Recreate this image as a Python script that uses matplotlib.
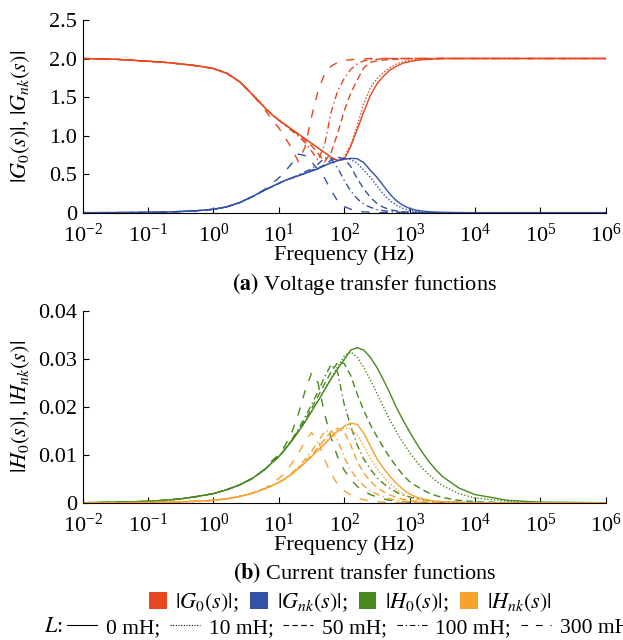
import numpy as np
import matplotlib
matplotlib.use("Agg")
import matplotlib.pyplot as plt
from matplotlib.patches import Patch
from matplotlib.lines import Line2D

plt.rcParams['font.family'] = ['Liberation Serif', 'DejaVu Serif']
plt.rcParams['mathtext.fontset'] = 'stix'

# ---------------------------
# data, x given as log10(frequency / Hz)
# ---------------------------
log_f = [-2, -1.5, -1, -0.75, -0.5, -0.25, 0, 0.2, 0.4, 0.6, 0.8,
         0.9, 1.0, 1.1, 1.2, 1.3, 1.4, 1.5, 1.6, 1.7, 1.8,
         1.9, 2.0, 2.1, 2.2, 2.3, 2.4, 2.5, 2.6, 2.7, 2.8,
         2.9, 3.0, 3.1, 3.2, 3.3, 3.4, 3.5,
         3.75, 4, 4.5, 5, 6]

inductances = ['0 mH', '10 mH', '50 mH', '100 mH', '300 mH']

# |G0(s)|  (low-frequency part shared by all L)
g0_lo = [2.00, 1.99, 1.965, 1.95, 1.93, 1.905, 1.87, 1.81, 1.70, 1.53, 1.35]
g0_0 = g0_lo + [1.27, 1.20, 1.14, 1.08, 1.02, 0.96, 0.90, 0.84, 0.78, 0.72,
                0.675, 0.69, 0.86, 1.08, 1.31, 1.52, 1.67, 1.77, 1.85, 1.90,
                1.94, 1.96, 1.975, 1.985, 1.99, 1.995, 2.0] + [2.0] * 5
g0_10 = g0_lo + [1.27, 1.20, 1.14, 1.08, 1.02, 0.96, 0.90, 0.84, 0.78, 0.72,
                 0.68, 0.72, 0.88, 1.13, 1.42, 1.62, 1.74, 1.82, 1.88, 1.93,
                 1.96, 1.975, 1.985, 1.99, 1.995, 2.0, 2.0] + [2.0] * 5
g0_50 = g0_lo + [1.27, 1.20, 1.14, 1.08, 1.01, 0.94, 0.87, 0.77, 0.66, 0.78,
                 1.03, 1.32, 1.55, 1.72, 1.88, 1.95, 1.97, 1.98, 1.985, 1.99,
                 1.995, 2.0, 2.0, 2.0, 2.0, 2.0, 2.0] + [2.0] * 5
g0_100 = g0_lo + [1.27, 1.20, 1.13, 1.06, 0.99, 0.91, 0.80, 0.68, 0.88, 1.30,
                  1.58, 1.74, 1.86, 1.93, 1.97, 1.985, 1.99, 2.0, 2.0, 2.0,
                  2.0, 2.0, 2.0, 2.0, 2.0, 2.0, 2.0] + [2.0] * 5
g0_300 = g0_lo[:-1] + [1.32] + [1.20, 1.10, 0.97, 0.83, 0.66, 0.85, 1.24, 1.58, 1.80, 1.90,
                                1.95, 1.975, 1.985, 1.99, 1.995, 2.0, 2.0, 2.0, 2.0, 2.0,
                                2.0, 2.0, 2.0, 2.0, 2.0, 2.0, 2.0] + [2.0] * 5

# |Gnk(s)|
gnk_lo = [0.0, 0.001, 0.004, 0.008, 0.015, 0.026, 0.044, 0.075, 0.13, 0.21, 0.30]
gnk_0 = gnk_lo + [0.34, 0.38, 0.42, 0.45, 0.48, 0.51, 0.54, 0.57, 0.61, 0.645,
                  0.675, 0.695, 0.705, 0.70, 0.65, 0.55, 0.46, 0.35, 0.24, 0.155,
                  0.095, 0.055, 0.033, 0.02, 0.012, 0.007, 0.004] + [0.001, 0.0, 0.0, 0.0, 0.0]
gnk_10 = gnk_lo + [0.34, 0.38, 0.42, 0.45, 0.48, 0.51, 0.54, 0.57, 0.61, 0.65,
                   0.685, 0.70, 0.69, 0.64, 0.55, 0.46, 0.35, 0.24, 0.155, 0.095,
                   0.055, 0.03, 0.018, 0.01, 0.006, 0.003, 0.002] + [0.0] * 5
gnk_50 = gnk_lo + [0.34, 0.38, 0.42, 0.45, 0.48, 0.51, 0.55, 0.58, 0.62, 0.68,
                   0.72, 0.70, 0.60, 0.44, 0.31, 0.20, 0.12, 0.07, 0.04, 0.022,
                   0.012, 0.007, 0.004, 0.002, 0.001, 0.0, 0.0] + [0.0] * 5
gnk_100 = gnk_lo + [0.34, 0.38, 0.42, 0.45, 0.49, 0.53, 0.57, 0.63, 0.71, 0.70,
                    0.58, 0.42, 0.28, 0.18, 0.11, 0.07, 0.04, 0.025, 0.015, 0.008,
                    0.004, 0.002, 0.0, 0.0, 0.0, 0.0, 0.0] + [0.0] * 5
gnk_300 = gnk_lo[:-1] + [0.31] + [0.38, 0.45, 0.54, 0.64, 0.76, 0.74, 0.66, 0.56, 0.45, 0.29,
                                  0.15, 0.08, 0.045, 0.02, 0.01, 0.005, 0.002, 0.0, 0.0, 0.0,
                                  0.0, 0.0, 0.0, 0.0, 0.0, 0.0, 0.0] + [0.0] * 5

# |H0(s)|
h0_lo = [0.0, 0.0001, 0.0003, 0.0005, 0.0008, 0.0013, 0.0019, 0.0027, 0.0037, 0.0051, 0.0071]
h0_0 = h0_lo + [0.0084, 0.0096, 0.0112, 0.0129, 0.0148, 0.0168, 0.0190, 0.0212, 0.0235, 0.0258,
                0.0279, 0.0298, 0.0318, 0.0323, 0.0318, 0.0303, 0.0282, 0.0256, 0.0228, 0.0198,
                0.0172, 0.0148, 0.0125, 0.0104, 0.0085, 0.0069, 0.0055] + [0.0031, 0.0017, 0.0005, 0.0001, 0.0]
h0_10 = h0_lo + [0.0084, 0.0096, 0.0112, 0.0129, 0.0148, 0.0168, 0.0190, 0.0212, 0.0236, 0.0260,
                 0.0283, 0.0305, 0.0314, 0.0303, 0.0282, 0.0256, 0.0228, 0.0200, 0.0172, 0.0148,
                 0.0125, 0.0105, 0.0087, 0.0071, 0.0058, 0.0046, 0.0036] + [0.0019, 0.0010, 0.0003, 0.0001, 0.0]
h0_50 = h0_lo + [0.0084, 0.0096, 0.0112, 0.0130, 0.0150, 0.0172, 0.0196, 0.0222, 0.0248, 0.0272,
                 0.0292, 0.0290, 0.0265, 0.0226, 0.0192, 0.0163, 0.0138, 0.0115, 0.0094, 0.0075,
                 0.0058, 0.0044, 0.0035, 0.0027, 0.0020, 0.0015, 0.0011] + [0.0005, 0.0002, 0.0, 0.0, 0.0]
h0_100 = h0_lo + [0.0084, 0.0096, 0.0113, 0.0132, 0.0154, 0.0178, 0.0204, 0.0232, 0.0262, 0.0288,
                  0.0272, 0.0205, 0.0160, 0.0120, 0.0091, 0.0070, 0.0053, 0.0040, 0.0030, 0.0022,
                  0.0016, 0.0012, 0.0009, 0.0007, 0.0005, 0.0003, 0.0002] + [0.0001, 0.0, 0.0, 0.0, 0.0]
h0_300 = h0_lo + [0.0088, 0.0100, 0.0120, 0.0147, 0.0185, 0.0232, 0.0270, 0.0250, 0.0185, 0.0135,
                  0.0095, 0.0068, 0.0048, 0.0034, 0.0024, 0.0017, 0.0012, 0.0008, 0.0005, 0.0003,
                  0.0002, 0.0001, 0.0, 0.0, 0.0, 0.0, 0.0] + [0.0] * 5

# |Hnk(s)|
hnk_lo = [0.0, 0.0, 0.00005, 0.0001, 0.0002, 0.0003, 0.0005, 0.0008, 0.0013, 0.0020, 0.0030]
hnk_0 = hnk_lo + [0.0036, 0.0042, 0.0050, 0.0060, 0.0071, 0.0083, 0.0096, 0.0109, 0.0122, 0.0136,
                  0.0149, 0.0159, 0.0166, 0.0163, 0.0145, 0.0118, 0.0092, 0.0072, 0.0055, 0.0040,
                  0.0028, 0.0018, 0.0012, 0.0008, 0.0005, 0.0003, 0.0002] + [0.0001, 0.0, 0.0, 0.0, 0.0]
hnk_10 = hnk_lo + [0.0036, 0.0042, 0.0050, 0.0060, 0.0071, 0.0083, 0.0096, 0.0110, 0.0124, 0.0139,
                   0.0150, 0.0156, 0.0154, 0.0140, 0.0118, 0.0092, 0.0072, 0.0054, 0.0040, 0.0028,
                   0.0018, 0.0011, 0.0007, 0.0005, 0.0003, 0.0002, 0.0001] + [0.0] * 5
hnk_50 = hnk_lo + [0.0036, 0.0042, 0.0050, 0.0060, 0.0072, 0.0085, 0.0099, 0.0115, 0.0132, 0.0148,
                   0.0155, 0.0148, 0.0120, 0.0085, 0.0062, 0.0045, 0.0032, 0.0023, 0.0016, 0.0011,
                   0.0007, 0.0005, 0.0003, 0.0002, 0.0001, 0.0, 0.0] + [0.0] * 5
hnk_100 = hnk_lo + [0.0036, 0.0042, 0.0051, 0.0062, 0.0075, 0.0090, 0.0107, 0.0127, 0.0148, 0.0151,
                    0.0130, 0.0095, 0.0068, 0.0049, 0.0035, 0.0025, 0.0018, 0.0012, 0.0008, 0.0005,
                    0.0003, 0.0002, 0.0001, 0.0, 0.0, 0.0, 0.0] + [0.0] * 5
hnk_300 = hnk_lo + [0.0044, 0.0050, 0.0064, 0.0082, 0.0102, 0.0128, 0.0146, 0.0130, 0.0090, 0.0060,
                    0.0038, 0.0025, 0.0016, 0.0010, 0.0006, 0.0004, 0.0002, 0.0001, 0.0, 0.0,
                    0.0, 0.0, 0.0, 0.0, 0.0, 0.0, 0.0] + [0.0] * 5

g0_curves = [g0_0, g0_10, g0_50, g0_100, g0_300]
gnk_curves = [gnk_0, gnk_10, gnk_50, gnk_100, gnk_300]
h0_curves = [h0_0, h0_10, h0_50, h0_100, h0_300]
hnk_curves = [hnk_0, hnk_10, hnk_50, hnk_100, hnk_300]

freq = 10.0 ** np.array(log_f)

# ---------------------------
# styles
# ---------------------------
c_g0 = '#e8461e'
c_gnk = '#3451a6'
c_h0 = '#47891c'
c_hnk = '#f6a22c'
styles = ['-', (0, (1, 1.4)), (0, (5, 3)), (0, (5, 2.5, 1, 2.5)), (0, (6, 7))]
lw = 1.0
fs = 16

fig = plt.figure(figsize=(6.23, 6.4), dpi=100)
ax1 = fig.add_axes([0.1327, 0.6677, 0.8395, 0.3011])
ax2 = fig.add_axes([0.1327, 0.2145, 0.8395, 0.3000])

for y, ls in zip(g0_curves, styles):
    ax1.plot(freq, y, color=c_g0, ls=ls, lw=lw)
for y, ls in zip(gnk_curves, styles):
    ax1.plot(freq, y, color=c_gnk, ls=ls, lw=lw)
for y, ls in zip(h0_curves, styles):
    ax2.plot(freq, y, color=c_h0, ls=ls, lw=lw)
for y, ls in zip(hnk_curves, styles):
    ax2.plot(freq, y, color=c_hnk, ls=ls, lw=lw)

for ax in (ax1, ax2):
    ax.set_xscale('log')
    ax.set_xlim(1e-2, 1e6)
    ax.set_xticks([10.0 ** k for k in range(-2, 7)])
    ax.minorticks_off()
    ax.spines['top'].set_visible(False)
    ax.spines['right'].set_visible(False)
    ax.tick_params(direction='in', length=4, width=0.8, labelsize=fs)
    ax.tick_params(axis='x', pad=8)
    ax.tick_params(axis='y', pad=4)
    ax.set_xlabel('Frequency (Hz)', fontsize=fs)
    ax.xaxis.set_label_coords(0.5, -0.17)
    ax.yaxis.set_label_coords(-0.097, 0.5)

ax1.set_ylim(0, 2.5)
ax1.set_yticks([0, 0.5, 1.0, 1.5, 2.0, 2.5])
ax1.set_yticklabels(['0', '0.5', '1.0', '1.5', '2.0', '2.5'])
ax1.set_ylabel(r'$|G_0(s)|$, $|G_{nk}(s)|$', fontsize=16)

ax2.set_ylim(0, 0.04)
ax2.set_yticks([0, 0.01, 0.02, 0.03, 0.04])
ax2.set_yticklabels(['0', '0.01', '0.02', '0.03', '0.04'])
ax2.set_ylabel(r'$|H_0(s)|$, $|H_{nk}(s)|$', fontsize=16)

fig.text(0.585, 0.556, r'$\mathbf{(a)}$ Voltage transfer functions', fontsize=fs,
         ha='center', va='center')
fig.text(0.585, 0.105, r'$\mathbf{(b)}$ Current transfer functions', fontsize=fs,
         ha='center', va='center')

# ---------------------------
# legends
# ---------------------------
color_handles = [Patch(facecolor=c, edgecolor='none') for c in (c_g0, c_gnk, c_h0, c_hnk)]
color_labels = [r'$|G_0(s)|$;', r'$|G_{nk}(s)|$;', r'$|H_0(s)|$;', r'$|H_{nk}(s)|$']
fig.legend(color_handles, color_labels, ncol=4, loc='center', bbox_to_anchor=(0.562, 0.059),
           frameon=False, fontsize=fs, handlelength=0.8, handleheight=0.8,
           handletextpad=0.4, columnspacing=0.5, borderpad=0, borderaxespad=0)

line_handles = [Line2D([], [], color='black', ls=ls, lw=0.8) for ls in styles]
line_labels = [lab + ';' for lab in inductances[:-1]] + [inductances[-1]]
fig.text(0.070, 0.019, r'$L$:', fontsize=fs, ha='left', va='center')
fig.legend(line_handles, line_labels, ncol=5, loc='center left', bbox_to_anchor=(0.108, 0.019),
           frameon=False, fontsize=15.5, handlelength=1.4, handletextpad=0.4,
           columnspacing=0.45, borderpad=0, borderaxespad=0)

fig.savefig('out.png', dpi=100)
